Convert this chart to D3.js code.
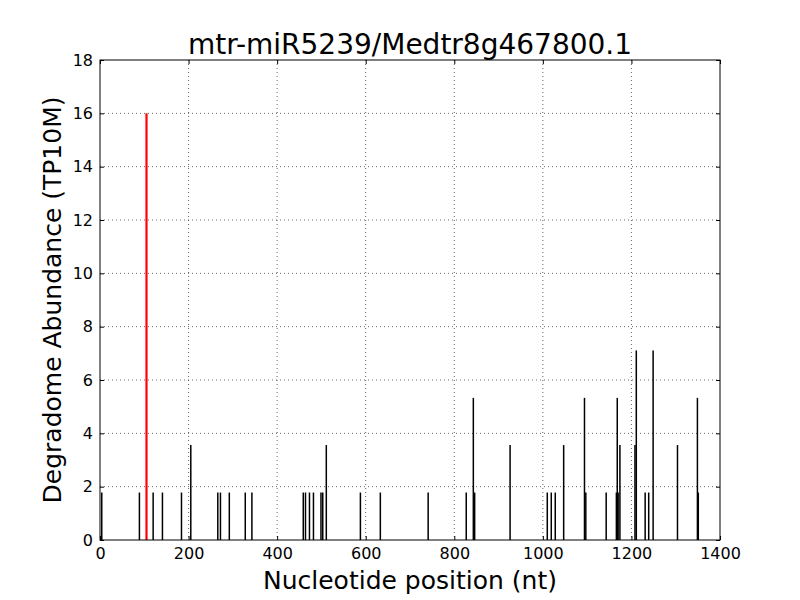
<!DOCTYPE html>
<html>
<head>
<meta charset="utf-8">
<script src="https://cdn.jsdelivr.net/npm/d3@7"></script>
<style>
  body { margin: 0; background: #fff; }
  text { font-family: "DejaVu Sans", sans-serif; }
</style>
</head>
<body>
<div id="chart"></div>
<script>
const width = 800;
const height = 600;
const margin = {top: 60, right: 80, bottom: 60, left: 100};

// cleavage positions (nt) and abundance (TP10M)
const positions = [4, 89, 120, 141, 184, 205, 266, 272, 292, 328, 343,
    459, 464, 473, 482, 499, 503, 511, 588, 633, 741,
    827, 843, 846, 926, 1010, 1019, 1028, 1047, 1094, 1097, 1143,
    1166, 1168, 1170, 1174, 1208, 1211, 1231, 1239, 1249, 1304, 1349, 1351];
const abundance = [1.78, 1.78, 1.78, 1.78, 1.78, 3.56, 1.78, 1.78, 1.78, 1.78, 1.78,
    1.78, 1.78, 1.78, 1.78, 1.78, 1.78, 3.56, 1.78, 1.78, 1.78,
    1.78, 5.33, 1.78, 3.56, 1.78, 1.78, 1.78, 3.56, 5.33, 1.78, 1.78,
    1.78, 5.33, 1.78, 3.56, 3.56, 7.11, 1.78, 1.78, 7.11, 3.56, 5.33, 1.78];
// miRNA target site
const targetPos = [105];
const targetAbundance = [16];

const xTicks = [0, 200, 400, 600, 800, 1000, 1200, 1400];
const yTicks = [0, 2, 4, 6, 8, 10, 12, 14, 16, 18];

const titleText = "mtr-miR5239/Medtr8g467800.1";
const xLabel = "Nucleotide position (nt)";
const yLabel = "Degradome Abundance (TP10M)";

const plotW = width - margin.left - margin.right;
const plotH = height - margin.top - margin.bottom;

const svg = d3.select("#chart")
    .append("svg")
    .attr("width", width)
    .attr("height", height);

const g = svg.append("g")
    .attr("transform", `translate(${margin.left},${margin.top})`);

const x = d3.scaleLinear().domain([0, 1400]).range([0, plotW]);
const y = d3.scaleLinear().domain([0, 18]).range([plotH, 0]);

// dotted grid
g.append("g")
    .selectAll("line")
    .data(xTicks.slice(1, -1))
    .enter().append("line")
    .attr("x1", d => x(d)).attr("x2", d => x(d))
    .attr("y1", 0).attr("y2", plotH)
    .attr("stroke", "#000")
    .attr("stroke-width", 0.6)
    .attr("stroke-dasharray", "1,3");

g.append("g")
    .selectAll("line")
    .data(yTicks.slice(1, -1))
    .enter().append("line")
    .attr("x1", 0).attr("x2", plotW)
    .attr("y1", d => y(d)).attr("y2", d => y(d))
    .attr("stroke", "#000")
    .attr("stroke-width", 0.6)
    .attr("stroke-dasharray", "1,3");

const data = positions.map((p, i) => ({pos: p, val: abundance[i]}));
const target = targetPos.map((p, i) => ({pos: p, val: targetAbundance[i]}));

g.append("g")
    .selectAll("line")
    .data(data)
    .enter().append("line")
    .attr("x1", d => x(d.pos)).attr("x2", d => x(d.pos))
    .attr("y1", y(0)).attr("y2", d => y(d.val))
    .attr("stroke", "#000")
    .attr("stroke-width", 1.5);

g.append("g")
    .selectAll("line")
    .data(target)
    .enter().append("line")
    .attr("x1", d => x(d.pos)).attr("x2", d => x(d.pos))
    .attr("y1", y(0)).attr("y2", d => y(d.val))
    .attr("stroke", "red")
    .attr("stroke-width", 2.2);

// axes: inward ticks on all four sides
const tickLen = 4;
const styleAxis = sel => {
    sel.select(".domain").remove();
    sel.selectAll(".tick line").attr("stroke", "#000");
    sel.selectAll(".tick text").attr("font-size", "16px").attr("fill", "#000")
        .style("font-family", "DejaVu Sans");
};

g.append("g")
    .attr("transform", `translate(0,${plotH})`)
    .call(d3.axisBottom(x).tickValues(xTicks).tickFormat(d3.format("d"))
        .tickSizeInner(-tickLen).tickSizeOuter(0).tickPadding(8))
    .call(styleAxis);

g.append("g")
    .call(d3.axisTop(x).tickValues(xTicks).tickSizeInner(-tickLen).tickSizeOuter(0).tickFormat(""))
    .call(styleAxis);

g.append("g")
    .call(d3.axisLeft(y).tickValues(yTicks).tickFormat(d3.format("d"))
        .tickSizeInner(-tickLen).tickSizeOuter(0).tickPadding(7))
    .call(styleAxis);

g.append("g")
    .attr("transform", `translate(${plotW},0)`)
    .call(d3.axisRight(y).tickValues(yTicks).tickSizeInner(-tickLen).tickSizeOuter(0).tickFormat(""))
    .call(styleAxis);

// frame
g.append("rect")
    .attr("width", plotW).attr("height", plotH)
    .attr("fill", "none")
    .attr("stroke", "#000")
    .attr("stroke-width", 1);

svg.append("text")
    .attr("x", margin.left + plotW / 2)
    .attr("y", 54)
    .attr("text-anchor", "middle")
    .attr("font-size", "28px")
    .text(titleText);

svg.append("text")
    .attr("x", margin.left + plotW / 2)
    .attr("y", 589)
    .attr("text-anchor", "middle")
    .attr("font-size", "25px")
    .text(xLabel);

svg.append("text")
    .attr("transform", `translate(61,${margin.top + plotH / 2}) rotate(-90)`)
    .attr("text-anchor", "middle")
    .attr("font-size", "25px")
    .text(yLabel);
</script>
</body>
</html>
